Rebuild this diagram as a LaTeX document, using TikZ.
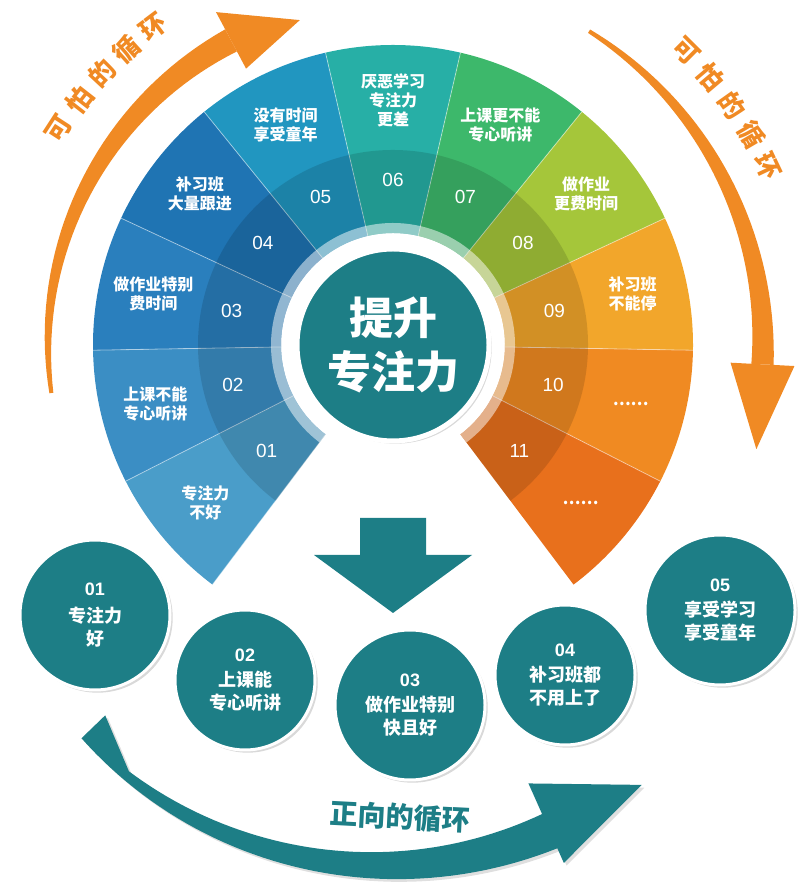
\documentclass[tikz,border=0pt]{standalone}
\usepackage{fontspec}
\setmainfont{Noto Sans CJK SC}
\newfontfamily\numf{Liberation Sans}
\usetikzlibrary{shadows,arrows.meta,calc}
\definecolor{tealc}{HTML}{1D7E86}
\definecolor{orc}{HTML}{F08A24}
\definecolor{s1}{HTML}{4A9DC9}\definecolor{s2}{HTML}{3B8EC4}\definecolor{s3}{HTML}{2A7FBD}
\definecolor{s4}{HTML}{1F74B3}\definecolor{s5}{HTML}{2196C0}\definecolor{s6}{HTML}{27AFA6}
\definecolor{s7}{HTML}{3DB86B}\definecolor{s8}{HTML}{A5C63A}\definecolor{s9}{HTML}{F2A62B}
\definecolor{s10}{HTML}{F08A22}\definecolor{s11}{HTML}{E8701C}
\tikzset{
 segtxt/.style={text=white,font=\fontsize{16}{19}\selectfont\bfseries,align=center},
 segnum/.style={text=white,font=\numf\fontsize{19}{20}\selectfont},
 arctxt/.style={text=orc,font=\fontsize{26}{28}\selectfont\bfseries,inner sep=0pt},
 bub/.style={circle,fill=tealc,draw=white,line width=3pt,drop shadow={opacity=0.3},text=white,align=center,font=\fontsize{18}{23}\selectfont\bfseries,inner sep=0pt}
}
\begin{document}
\begin{tikzpicture}[x=1pt,y=1pt]
\useasboundingbox (0,0) rectangle (804,885);
\coordinate (C) at (393,540);
% fan segments
\foreach \k/\col in {1/s1,2/s2,3/s3,4/s4,5/s5,6/s6,7/s7,8/s8,9/s9,10/s10,11/s11}{
  \pgfmathsetmacro\a{90+(6-\k)*26}
  \pgfmathsetmacro\aa{\a+13}\pgfmathsetmacro\ab{\a-13}
  \fill[\col] ($(C)+(\aa:112)$) arc[start angle=\aa,end angle=\ab,radius=112] -- ($(C)+(\ab:300)$) arc[start angle=\ab,end angle=\aa,radius=300] -- cycle;
  \draw[white,opacity=0.5,line width=0.8pt] ($(C)+(\aa:112)$) -- ($(C)+(\aa:300)$);
}
\fill[black,opacity=0.13] ($(C)+(233:112)$) arc[start angle=233,end angle=-53,radius=112] -- ($(C)+(-53:195)$) arc[start angle=-53,end angle=233,radius=195] -- cycle;
\fill[white,opacity=0.5] ($(C)+(233:112)$) arc[start angle=233,end angle=-53,radius=112] -- ($(C)+(-53:122)$) arc[start angle=-53,end angle=233,radius=122] -- cycle;
% numbers and texts
\foreach \k/\t in {1/{专注力\\不好},2/{上课不能\\专心听讲},3/{做作业特别\\费时间},4/{补习班\\大量跟进},5/{没有时间\\享受童年},6/{厌恶学习\\专注力\\更差},7/{上课更不能\\专心听讲},8/{做作业\\更费时间},9/{补习班\\不能停},10/{……},11/{……}}{
  \pgfmathsetmacro\a{90+(6-\k)*26}
  \node[segnum] (n\k) at ($(C)+(\a:165)$) {\ifnum\k<10 0\fi\k};
  \node[segtxt] (t\k) at ($(C)+(\a:245)$) {\t};
}
% centre
\node[circle,fill=tealc,draw=white,line width=5pt,minimum size=192pt,text=white,align=center,font=\fontsize{44}{54}\selectfont\bfseries,drop shadow={opacity=0.3}] (ctr) at (C) {提升\\专注力};
% orange arrows
\fill[orc] plot[domain=188:118,samples=40] ({393+(345+2+0.15*(188-\x))*cos(\x)},{540+(345+2+0.15*(188-\x))*sin(\x)}) -- plot[domain=118:188,samples=40] ({393+(345-2-0.15*(188-\x))*cos(\x)},{540+(345-2-0.15*(188-\x))*sin(\x)}) -- cycle;
\fill[orc] ($(C)+(118:377)$) -- ($(C)+(106:338)$) -- ($(C)+(118:313)$) -- cycle;
\foreach \c [count=\i] in {可,怕,的,循,环}{
  \pgfmathsetmacro\a{152-5*\i}
  \node[arctxt,rotate=\a-90] (l\i) at ($(C)+(\a:398)$) {\c};
}
\fill[orc] plot[domain=58:-3,samples=40] ({393+(370+2+0.15*(58-\x))*cos(\x)},{540+(370+2+0.15*(58-\x))*sin(\x)}) -- plot[domain=-3:58,samples=40] ({393+(370-2-0.15*(58-\x))*cos(\x)},{540+(370-2-0.15*(58-\x))*sin(\x)}) -- cycle;
\fill[orc] ($(C)+(-3:402)$) -- ($(C)+(-16:378)$) -- ($(C)+(-3:338)$) -- cycle;
\foreach \c [count=\i] in {可,怕,的,循,环}{
  \pgfmathsetmacro\a{50-4.9*\i}
  \node[arctxt,rotate=\a-90] (r\i) at ($(C)+(\a:415)$) {\c};
}
% down arrow
\fill[tealc] (360,367) -- (426,367) -- (426,330) -- (472,330) -- (393,272) -- (314,330) -- (360,330) -- cycle;
% bubbles
\node[bub,minimum size=150pt] (b1) at (95,270) {{\numf 01}\\[4pt]专注力\\好};
\node[bub,minimum size=140pt] (b2) at (245,205) {{\numf 02}\\[2pt]上课能\\专心听讲};
\node[bub,minimum size=150pt] (b3) at (410,180) {{\numf 03}\\[2pt]做作业特别\\快且好};
\node[bub,minimum size=140pt] (b4) at (565,210) {{\numf 04}\\[2pt]补习班都\\不用上了};
\node[bub,minimum size=150pt] (b5) at (720,275) {{\numf 05}\\[2pt]享受学习\\享受童年};
% bottom arrow
\fill[tealc,drop shadow={opacity=0.25}] plot[domain=224:294,samples=50] ({380+(412+3+0.3*(\x-224))*cos(\x)},{435+(412+3+0.3*(\x-224))*sin(\x)})
  -- ($(380,435)+(294:452)$) -- ($(380,435)+(308:425)$) -- ($(380,435)+(294:365)$)
  -- plot[domain=294:232,samples=50] ({380+(412-3-0.15*(\x-224))*cos(\x)},{435+(412-3-0.15*(\x-224))*sin(\x)})
  -- ($(380,435)+(224:382)$) -- cycle;
\node[text=tealc,font=\fontsize{28}{30}\selectfont\bfseries,rotate=-3] (bt) at (400,68) {正向的循环};
\end{tikzpicture}
\end{document}
